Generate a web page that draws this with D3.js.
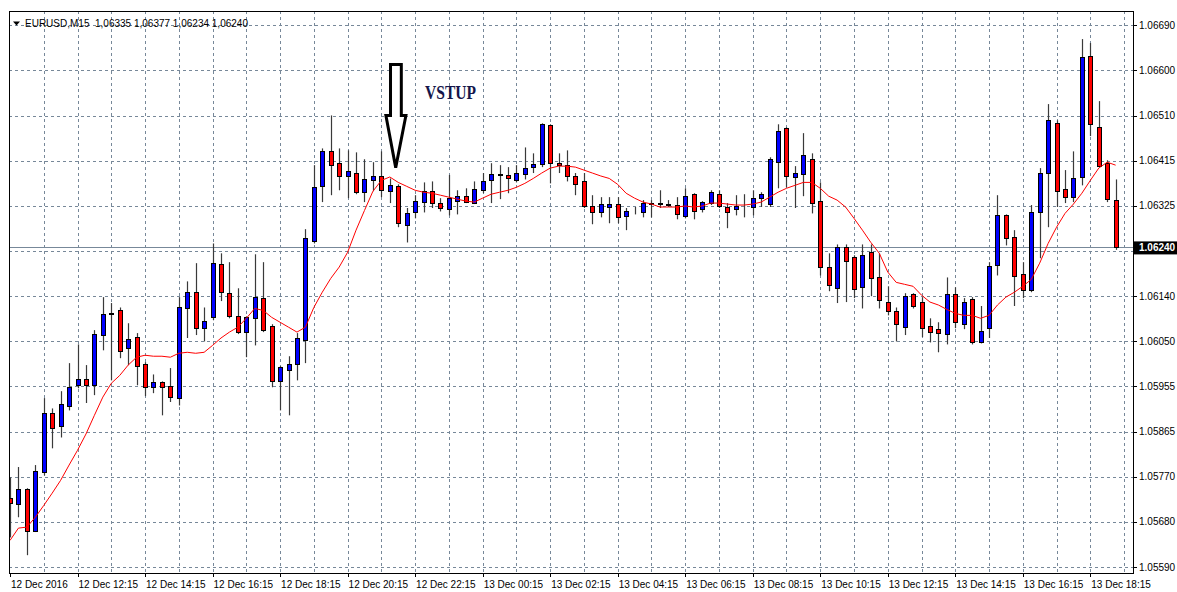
<!DOCTYPE html>
<html>
<head>
<meta charset="utf-8">
<script src="https://cdn.jsdelivr.net/npm/d3@7"></script>
<style>
  body { margin: 0; background: #fff; }
  svg { display: block; }
  text { font-family: "Liberation Sans", Arial, sans-serif; }
</style>
</head>
<body>
<script>
// EURUSD M15, 12 Dec 2016 10:15 -> 13 Dec 2016 19:00, one value per bar
const symbol = 'EURUSD,M15'
const timeLabels = ['12 Dec 2016', '12 Dec 12:15', '12 Dec 14:15', '12 Dec 16:15', '12 Dec 18:15', '12 Dec 20:15',
  '12 Dec 22:15', '13 Dec 00:15', '13 Dec 02:15', '13 Dec 04:15', '13 Dec 06:15', '13 Dec 08:15',
  '13 Dec 10:15', '13 Dec 12:15', '13 Dec 14:15', '13 Dec 16:15', '13 Dec 18:15']
const priceLabels = ['1.05590', '1.05680', '1.05770', '1.05865', '1.05955', '1.06050', '1.06140',
  '1.06230', '1.06325', '1.06415', '1.06510', '1.06600', '1.06690']

const opens = [
  1.05730, 1.05717, 1.05748, 1.05663, 1.05782, 1.05902, 1.05876, 1.05916, 1.05959, 1.05971,
  1.05959, 1.06061, 1.06103, 1.06111, 1.06034, 1.06057, 1.06002, 1.05955, 1.05965, 1.05957,
  1.05933, 1.06115, 1.06148, 1.06075, 1.06097, 1.06205, 1.06146, 1.06099, 1.06067, 1.06095,
  1.06136, 1.06079, 1.05967, 1.05990, 1.06002, 1.06050, 1.06252, 1.06363, 1.06434, 1.06410,
  1.06384, 1.06390, 1.06351, 1.06375, 1.06384, 1.06353, 1.06363, 1.06284, 1.06310, 1.06331,
  1.06353, 1.06329, 1.06317, 1.06333, 1.06343, 1.06329, 1.06355, 1.06375, 1.06386, 1.06386,
  1.06375, 1.06388, 1.06402, 1.06408, 1.06487, 1.06410, 1.06406, 1.06384, 1.06373, 1.06323,
  1.06310, 1.06321, 1.06327, 1.06302, 1.06310, 1.06310, 1.06327, 1.06329, 1.06327, 1.06325,
  1.06302, 1.06347, 1.06317, 1.06329, 1.06347, 1.06321, 1.06317, 1.06325, 1.06321, 1.06339,
  1.06327, 1.06412, 1.06481, 1.06382, 1.06388, 1.06418, 1.06333, 1.06199, 1.06156, 1.06239,
  1.06219, 1.06158, 1.06229, 1.06178, 1.06128, 1.06109, 1.06077, 1.06144, 1.06128, 1.06079,
  1.06073, 1.06063, 1.06144, 1.06083, 1.06134, 1.06046, 1.06075, 1.06203, 1.06304, 1.06260,
  1.06185, 1.06152, 1.06310, 1.06390, 1.06491, 1.06357, 1.06341, 1.06382, 1.06627, 1.06483,
  1.06410, 1.06335]
const highs = [
  1.05772, 1.05793, 1.05750, 1.05797, 1.05933, 1.05912, 1.05947, 1.06004, 1.06042, 1.06000,
  1.06071, 1.06138, 1.06126, 1.06117, 1.06085, 1.06065, 1.06006, 1.05981, 1.05967, 1.05994,
  1.06138, 1.06170, 1.06207, 1.06117, 1.06247, 1.06227, 1.06209, 1.06156, 1.06099, 1.06225,
  1.06209, 1.06083, 1.05998, 1.06018, 1.06065, 1.06276, 1.06406, 1.06440, 1.06507, 1.06440,
  1.06436, 1.06432, 1.06418, 1.06412, 1.06434, 1.06379, 1.06367, 1.06319, 1.06345, 1.06371,
  1.06373, 1.06339, 1.06386, 1.06355, 1.06359, 1.06373, 1.06390, 1.06410, 1.06406, 1.06402,
  1.06406, 1.06442, 1.06430, 1.06491, 1.06489, 1.06430, 1.06436, 1.06390, 1.06390, 1.06345,
  1.06341, 1.06341, 1.06341, 1.06319, 1.06321, 1.06335, 1.06335, 1.06355, 1.06335, 1.06341,
  1.06359, 1.06349, 1.06333, 1.06355, 1.06355, 1.06329, 1.06345, 1.06347, 1.06355, 1.06351,
  1.06422, 1.06489, 1.06483, 1.06404, 1.06471, 1.06430, 1.06371, 1.06227, 1.06245, 1.06245,
  1.06223, 1.06245, 1.06245, 1.06227, 1.06160, 1.06117, 1.06146, 1.06146, 1.06138, 1.06095,
  1.06087, 1.06178, 1.06158, 1.06136, 1.06138, 1.06120, 1.06209, 1.06345, 1.06306, 1.06274,
  1.06209, 1.06325, 1.06400, 1.06530, 1.06497, 1.06396, 1.06434, 1.06662, 1.06654, 1.06536,
  1.06416, 1.06377]
const lows = [
  1.05650, 1.05691, 1.05614, 1.05661, 1.05776, 1.05831, 1.05853, 1.05908, 1.05953, 1.05923,
  1.05939, 1.06030, 1.05969, 1.06014, 1.06000, 1.05959, 1.05937, 1.05943, 1.05898, 1.05925,
  1.05918, 1.06055, 1.06061, 1.06048, 1.06091, 1.06130, 1.06095, 1.06063, 1.06016, 1.06040,
  1.06067, 1.05955, 1.05908, 1.05898, 1.05969, 1.06004, 1.06247, 1.06331, 1.06345, 1.06355,
  1.06339, 1.06347, 1.06331, 1.06353, 1.06341, 1.06329, 1.06280, 1.06249, 1.06298, 1.06310,
  1.06319, 1.06312, 1.06304, 1.06306, 1.06329, 1.06327, 1.06349, 1.06329, 1.06337, 1.06349,
  1.06371, 1.06377, 1.06390, 1.06402, 1.06369, 1.06390, 1.06373, 1.06345, 1.06319, 1.06286,
  1.06300, 1.06288, 1.06288, 1.06274, 1.06306, 1.06300, 1.06300, 1.06319, 1.06321, 1.06296,
  1.06298, 1.06296, 1.06310, 1.06325, 1.06319, 1.06278, 1.06304, 1.06300, 1.06304, 1.06321,
  1.06321, 1.06359, 1.06361, 1.06319, 1.06343, 1.06308, 1.06182, 1.06150, 1.06126, 1.06128,
  1.06136, 1.06115, 1.06140, 1.06115, 1.06101, 1.06048, 1.06061, 1.06115, 1.06057, 1.06046,
  1.06026, 1.06042, 1.06075, 1.06073, 1.06042, 1.06044, 1.06055, 1.06182, 1.06243, 1.06120,
  1.06136, 1.06148, 1.06217, 1.06280, 1.06321, 1.06329, 1.06331, 1.06365, 1.06465, 1.06402,
  1.06331, 1.06234]
const closes = [
  1.05719, 1.05748, 1.05663, 1.05784, 1.05902, 1.05872, 1.05920, 1.05955, 1.05971, 1.05959,
  1.06063, 1.06103, 1.06105, 1.06028, 1.06052, 1.05998, 1.05955, 1.05965, 1.05955, 1.05935,
  1.06117, 1.06148, 1.06075, 1.06089, 1.06207, 1.06148, 1.06099, 1.06067, 1.06097, 1.06138,
  1.06071, 1.05967, 1.05996, 1.06002, 1.06055, 1.06258, 1.06361, 1.06434, 1.06406, 1.06384,
  1.06394, 1.06351, 1.06377, 1.06384, 1.06355, 1.06365, 1.06288, 1.06308, 1.06333, 1.06353,
  1.06329, 1.06319, 1.06339, 1.06343, 1.06331, 1.06357, 1.06373, 1.06388, 1.06388, 1.06379,
  1.06390, 1.06400, 1.06408, 1.06489, 1.06410, 1.06406, 1.06384, 1.06367, 1.06323, 1.06310,
  1.06327, 1.06327, 1.06300, 1.06312, 1.06310, 1.06329, 1.06329, 1.06327, 1.06325, 1.06306,
  1.06343, 1.06312, 1.06331, 1.06351, 1.06323, 1.06310, 1.06323, 1.06325, 1.06339, 1.06347,
  1.06418, 1.06475, 1.06384, 1.06390, 1.06426, 1.06329, 1.06199, 1.06162, 1.06239, 1.06211,
  1.06154, 1.06223, 1.06176, 1.06132, 1.06109, 1.06083, 1.06140, 1.06120, 1.06075, 1.06067,
  1.06065, 1.06144, 1.06087, 1.06128, 1.06046, 1.06069, 1.06201, 1.06304, 1.06258, 1.06180,
  1.06152, 1.06310, 1.06390, 1.06497, 1.06353, 1.06341, 1.06379, 1.06625, 1.06489, 1.06404,
  1.06337, 1.06240]
// red moving average
const maValues = [
  1.05644, 1.05669, 1.05671, 1.05691, 1.05715, 1.05740, 1.05766, 1.05797, 1.05827, 1.05860,
  1.05898, 1.05935, 1.05963, 1.05979, 1.06000, 1.06016, 1.06020, 1.06018, 1.06018, 1.06016,
  1.06024, 1.06026, 1.06024, 1.06026, 1.06040, 1.06055, 1.06067, 1.06077, 1.06095, 1.06115,
  1.06111, 1.06097, 1.06087, 1.06077, 1.06067, 1.06077, 1.06117, 1.06148, 1.06176, 1.06199,
  1.06229, 1.06274, 1.06314, 1.06353, 1.06375, 1.06382, 1.06371, 1.06363, 1.06355, 1.06351,
  1.06349, 1.06345, 1.06341, 1.06337, 1.06333, 1.06331, 1.06339, 1.06347, 1.06351, 1.06355,
  1.06361, 1.06369, 1.06379, 1.06390, 1.06400, 1.06404, 1.06404, 1.06402, 1.06396, 1.06390,
  1.06384, 1.06379, 1.06367, 1.06349, 1.06339, 1.06331, 1.06327, 1.06321, 1.06321, 1.06321,
  1.06323, 1.06321, 1.06323, 1.06329, 1.06329, 1.06327, 1.06325, 1.06325, 1.06327, 1.06331,
  1.06341, 1.06351, 1.06359, 1.06365, 1.06371, 1.06371, 1.06359, 1.06343, 1.06335, 1.06321,
  1.06298, 1.06274, 1.06249, 1.06227, 1.06189, 1.06168, 1.06164, 1.06160, 1.06142, 1.06128,
  1.06122, 1.06113, 1.06105, 1.06101, 1.06101, 1.06095, 1.06101, 1.06122, 1.06138, 1.06148,
  1.06160, 1.06174, 1.06207, 1.06247, 1.06280, 1.06308, 1.06327, 1.06349, 1.06375, 1.06400,
  1.06412, 1.06406]

// annotation: arrow tip (bar index, price) and its caption
const arrowBar = 45.7
const arrowPrice = 1.06401
const arrowText = 'VSTUP'

let width = 1177
let height = 592
let frame = { left: 9, top: 11, right: 1133, bottom: 573 }
let grey = '#778899'

let svg = d3.select('body').append('svg')
  .attr('width', width)
  .attr('height', height)

svg.append('rect').attr('width', width).attr('height', height).attr('fill', '#fff')

svg.append('clipPath').attr('id', 'plot')
  .append('rect')
  .attr('x', frame.left).attr('y', frame.top)
  .attr('width', frame.right - frame.left).attr('height', frame.bottom - frame.top)

// scales: one slot per 15-minute bar
let xScale = d3.scaleLinear().domain([0, 132]).range([10, 10 + 132 * 8.44])
let yScale = d3.scaleLinear().domain([1.0559, 1.0669]).range([567, 25.3])
let gridPrices = d3.range(priceLabels.length).map(i => 1.0559 + i * (1.0669 - 1.0559) / (priceLabels.length - 1))
let crisp = v => Math.round(v) + 0.5

// grid
let grid = svg.append('g')
  .attr('stroke', grey)
  .attr('stroke-dasharray', '3,3')
  .attr('stroke-width', 1)
grid.selectAll('line.h').data(gridPrices).join('line')
  .attr('class', 'h')
  .attr('x1', frame.left).attr('x2', frame.right)
  .attr('y1', d => crisp(yScale(d))).attr('y2', d => crisp(yScale(d)))
grid.selectAll('line.v').data(d3.range(4, 133, 4)).join('line')
  .attr('class', 'v')
  .attr('y1', frame.top).attr('y2', frame.bottom)
  .attr('x1', d => crisp(xScale(d))).attr('x2', d => crisp(xScale(d)))

// bid line
let last = closes[closes.length - 1]
let lastY = yScale(last)
svg.append('line')
  .attr('x1', frame.left).attr('x2', frame.right)
  .attr('y1', crisp(lastY)).attr('y2', crisp(lastY))
  .attr('stroke', grey)

// candles
let bars = opens.map((o, i) => ({ i, o, h: highs[i], l: lows[i], c: closes[i] }))
let plot = svg.append('g').attr('clip-path', 'url(#plot)')

plot.selectAll('line.wick').data(bars).join('line')
  .attr('class', 'wick')
  .attr('x1', d => crisp(xScale(d.i))).attr('x2', d => crisp(xScale(d.i)))
  .attr('y1', d => yScale(d.h)).attr('y2', d => yScale(d.l))
  .attr('stroke', '#3a3a3a')
  .attr('stroke-width', 1.2)

plot.selectAll('rect.body').data(bars).join('rect')
  .attr('class', 'body')
  .attr('x', d => Math.round(xScale(d.i)) - 1.5)
  .attr('width', 4)
  .attr('y', d => Math.round(yScale(Math.max(d.o, d.c))) + 0.5)
  .attr('height', d => Math.max(0, Math.round(Math.abs(yScale(d.o) - yScale(d.c)))))
  .attr('fill', d => d.c > d.o ? '#0000ff' : d.c < d.o ? '#ff0000' : '#000')
  .attr('stroke', '#000')
  .attr('stroke-width', 1)

// moving average
plot.append('path')
  .datum(maValues)
  .attr('fill', 'none')
  .attr('stroke', '#ff0000')
  .attr('stroke-width', 1)
  .attr('d', d3.line().x((d, i) => xScale(i)).y(d => yScale(d)))

// frame
svg.append('rect')
  .attr('x', frame.left + 0.5).attr('y', frame.top + 0.5)
  .attr('width', frame.right - frame.left).attr('height', frame.bottom - frame.top)
  .attr('fill', 'none')
  .attr('stroke', '#000')

// price axis (the label under the bid box is hidden, as in the terminal)
let priceAxis = svg.append('g')
priceAxis.selectAll('line').data(gridPrices).join('line')
  .attr('x1', frame.right).attr('x2', frame.right + 4)
  .attr('y1', d => crisp(yScale(d))).attr('y2', d => crisp(yScale(d)))
  .attr('stroke', '#000')
priceAxis.selectAll('text')
  .data(gridPrices.map((d, i) => ({ d, label: priceLabels[i] })).filter(t => Math.abs(yScale(t.d) - lastY) > 12))
  .join('text')
  .attr('x', 1139)
  .attr('y', t => yScale(t.d))
  .attr('dy', '0.35em')
  .attr('font-size', 10)
  .attr('fill', '#000')
  .text(t => t.label)

// current price box
svg.append('rect')
  .attr('x', 1134).attr('y', lastY - 5.5)
  .attr('width', 43).attr('height', 13)
  .attr('fill', '#000')
svg.append('text')
  .attr('x', 1139).attr('y', lastY + 1)
  .attr('dy', '0.35em')
  .attr('font-size', 10)
  .attr('font-weight', 'bold')
  .attr('fill', '#fff')
  .text(d3.format('.5f')(last))

// time axis
let timeTicks = timeLabels.map((t, k) => k * 8)
let timeAxis = svg.append('g')
timeAxis.selectAll('line').data(timeTicks).join('line')
  .attr('x1', d => crisp(Math.max(xScale(d), frame.left))).attr('x2', d => crisp(Math.max(xScale(d), frame.left)))
  .attr('y1', frame.bottom).attr('y2', frame.bottom + 4)
  .attr('stroke', '#000')
timeAxis.selectAll('text').data(timeTicks).join('text')
  .attr('x', d => Math.max(xScale(d), frame.left) + 1)
  .attr('y', 588)
  .attr('font-size', 10)
  .attr('fill', '#000')
  .text((d, k) => timeLabels[k])

// title
let fmt = v => d3.format('.5f')(v).replace('.', ',')
let n = opens.length - 1
svg.append('path')
  .attr('d', 'M13,21.5 L20,21.5 L16.5,25.5 Z')
  .attr('fill', '#000')
svg.append('text')
  .attr('x', 25).attr('y', 27)
  .attr('font-size', 10)
  .attr('fill', '#000')
  .style('white-space', 'pre')
  .text(`${symbol}  ${fmt(opens[n])} ${fmt(highs[n])} ${fmt(lows[n])} ${fmt(closes[n])}`)

// arrow annotation
let tx = xScale(arrowBar)
let ty = yScale(arrowPrice)
let arrow = [[-5.2, -103], [5.6, -103], [5.6, -52], [10.2, -52], [0, 0], [-9.8, -52], [-5.2, -52]]
svg.append('path')
  .attr('d', 'M' + arrow.map(p => [tx + p[0], ty + p[1]].join(',')).join('L') + 'Z')
  .attr('fill', '#fff')
  .attr('stroke', '#000')
  .attr('stroke-width', 3)
  .attr('stroke-linejoin', 'miter')

svg.append('text')
  .attr('x', 425).attr('y', 99)
  .style('font-family', '"Liberation Serif", "Times New Roman", serif')
  .attr('font-weight', 'bold')
  .attr('font-size', 19)
  .attr('textLength', 51)
  .attr('lengthAdjust', 'spacingAndGlyphs')
  .attr('fill', '#15154a')
  .text(arrowText)
</script>
</body>
</html>
